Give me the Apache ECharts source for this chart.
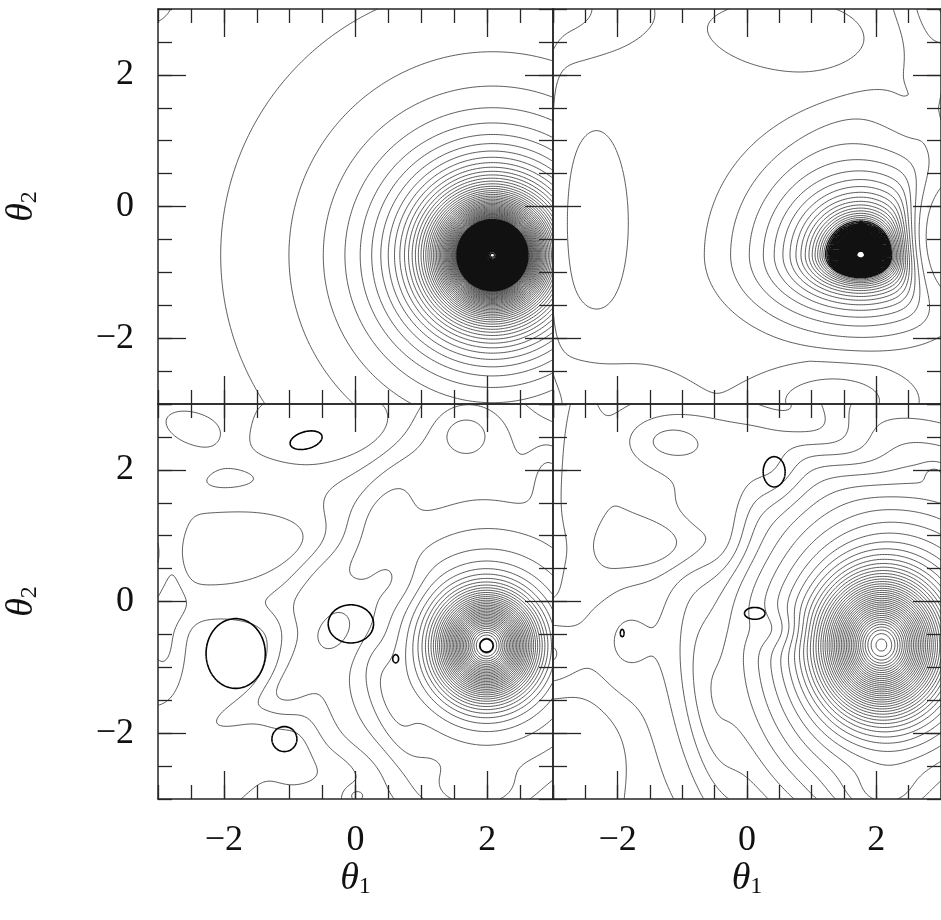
<!DOCTYPE html>
<html>
<head>
<meta charset="utf-8">
<script src="https://cdn.jsdelivr.net/npm/echarts@6.0.0/dist/echarts.min.js"></script>
<style>
html,body{margin:0;padding:0;background:#ffffff;}
#chart{width:941px;height:920px;}
</style>
</head>
<body>
<div id="chart"></div>
<script>
// ---------------- axes ----------------
const axisRange = [-3, 3];
const minorTickStep = 0.5;
const majorTickValues = [-2, 0, 2];
const xTitle = '{t|θ}{s|1}';
const yTitle = '{t|θ}{s|2}';

// peaks:   [x0, y0, amp, core, power, cut, kLeft, kRight, kDown, kUp]
// windows: [x0, y0, ax, ay]  (damps the peaks locally)
// gauss:   [x0, y0, amp, sx, sy, rotDeg]
// loops:   [x0, y0, rx, ry, rotDeg]  emphasised (black) closed contours
// coreFrom: contour level from which the dense core lines are drawn heavier

// ---------------- panel 1 (top-left) ----------------
const p1Peaks = [[2.08, -0.74, 1.0, 0.45, 2, 0, 1, 1, 1, 1]];
const p1Windows = [];
const p1Gauss = [[-3.2, 3.2, 0.07, 0.35, 0.35, 0]];
const p1Offset = 0;
const p1Gray = {base: 0.058, step: 0.0445, count: 110};
const p1CoreFrom = 2.0;
const p1Loops = [];

// ---------------- panel 2 (top-right) ----------------
const p2Peaks = [[1.76, -0.74, 12.0, 0.03, 1, 0.3716, 1.0, 1.1, 1.6, 1.05]];
const p2Windows = [[3.15, -0.5, 0.7, 1.2]];
const p2Gauss = [
  [-2.33, -0.25, 1.0, 0.42, 1.2, 0],
  [-3.3, -0.1, -2.0, 0.2, 4.0, 0],
  [-3.0, 3.0, -1.9, 0.9, 0.55, 0],
  [-3.0, -3.0, -1.4, 1.6, 0.57, 0],
  [0.75, 2.58, -1.15, 1.0, 0.42, -5],
  [1.35, -2.95, -2.3, 0.75, 0.35, 0],
  [3.3, 3.2, 3.0, 0.6, 0.6, 0],
  [2.0, 1.75, 0.55, 1.0, 0.38, 38],
  [2.78, 1.65, 0.9, 0.15, 0.42, 0]
];
const p2Offset = 0;
const p2Gray = {base: -2.5, step: 1, count: 170};
const p2CoreFrom = 17.5;
const p2Loops = [];

// ---------------- panel 3 (bottom-left) ----------------
const p3Peaks = [];
const p3Windows = [];
const p3Gauss = [
  [1.99, -0.67, 34, 0.45, 0.47, 0],
  [2.0, -0.7, 7.0, 1.7, 1.7, 0],
  [-0.6, 2.45, -1.8, 0.9, 0.32, 12],
  [1.7, 2.65, 1.8, 0.55, 0.45, 0],
  [1.66, 2.53, 1.0, 0.2, 0.17, 0],
  [-2.78, 0.74, 1.6, 0.16, 0.55, 0],
  [2.95, 1.93, 1.6, 0.2, 0.35, 0],
  [-1.6, 0.85, -1.6, 1.1, 0.3, 5],
  [0.35, 1.3, 1.4, 0.3, 0.8, -30],
  [-0.95, -1.0, 1.3, 0.25, 1.2, -15],
  [-1.82, -0.79, -1.6, 0.7, 0.8, 0],
  [-0.07, -0.34, -1.4, 0.5, 0.4, 0],
  [-1.08, -2.09, -1.4, 0.35, 0.35, 0],
  [-2.9, -0.7, 1.5, 0.25, 0.45, 0],
  [-2.0, -2.4, -1.2, 0.7, 0.4, 0],
  [1.8, -2.9, 1.8, 0.5, 0.25, 0],
  [0.0, -2.95, 1.2, 0.12, 0.1, 0],
  [-2.4, 2.6, 1.4, 0.6, 0.3, -20],
  [-2.0, -0.05, 1.2, 0.9, 0.25, 0],
  [-1.6, -1.6, 1.1, 0.7, 0.2, 30],
  [-1.8, 1.9, 1.2, 0.8, 0.25, 10],
  [0.55, -1.6, 1.0, 0.2, 0.7, 20],
  [-0.3, -2.6, -1.0, 0.5, 0.3, 0],
  [0.6, 0.3, -1.0, 0.3, 0.3, 0]
];
const p3Offset = 1.0;
const p3Gray = {base: 1, step: 1, count: 42};
const p3CoreFrom = null;
const p3Loops = [
  [-0.75, 2.45, 0.25, 0.13, 15],
  [-1.82, -0.79, 0.45, 0.53, 0],
  [-0.07, -0.34, 0.345, 0.29, 0],
  [0.61, -0.87, 0.045, 0.065, 0],
  [-1.08, -2.09, 0.19, 0.19, 30],
  [1.99, -0.67, 0.1, 0.1, 0]
];

// ---------------- panel 4 (bottom-right) ----------------
const p4Peaks = [];
const p4Windows = [];
const p4Gauss = [
  [2.07, -0.66, 33, 0.55, 0.6, 0],
  [2.3, -0.7, 14, 1.9, 2.1, 0],
  [-3.12, -0.8, 2.4, 0.38, 0.38, 0],
  [-1.25, 2.45, 2.0, 0.5, 0.3, 0],
  [-1.35, 0.85, -1.8, 0.75, 0.3, 0],
  [-1.95, -0.6, 1.5, 0.35, 0.55, 0],
  [0.42, 1.97, -1.2, 0.3, 0.35, 0],
  [0.5, -0.43, -1.2, 0.3, 0.2, 0],
  [-0.6, -1.6, 1.3, 0.25, 1.0, 10],
  [1.0, 2.7, -1.8, 1.0, 0.3, -30],
  [2.1, -3.0, 2.0, 0.5, 0.3, 0],
  [-2.55, 1.6, 1.2, 0.2, 1.2, 0],
  [-0.3, 1.2, -1.2, 0.25, 0.6, -10],
  [-2.6, -2.3, -1.2, 0.5, 0.5, 0],
  [2.9, 1.95, 1.0, 0.12, 0.1, 0]
];
const p4Offset = 0.5;
const p4Gray = {base: 1, step: 1, count: 47};
const p4CoreFrom = null;
const p4Loops = [
  [0.42, 1.97, 0.17, 0.23, 0],
  [0.12, -0.18, 0.16, 0.09, 0],
  [-1.93, -0.48, 0.03, 0.06, 0]
];

// ---------------- field + contouring ----------------
function makeField(offset, peaks, windows, gauss) {
  const gs = gauss.map(([cx, cy, amp, sx, sy, rot]) => {
    const a = rot * Math.PI / 180;
    return [cx, cy, amp, sx, sy, Math.cos(a), Math.sin(a)];
  });
  return function (x, y) {
    let w = 1;
    for (const [cx, cy, ax, ay] of windows) {
      const u = ((x - cx) / ax) ** 2 + ((y - cy) / ay) ** 2;
      w *= 1 - Math.exp(-u * u);
    }
    let f = offset;
    for (const [cx, cy, amp, core, pw, cut, kl, kr, kd, ku] of peaks) {
      let dx = x - cx, dy = y - cy;
      dx *= dx < 0 ? kl : kr;
      dy *= dy < 0 ? kd : ku;
      const r2 = dx * dx + dy * dy + core * core;
      let v = Math.pow(r2, -pw / 2) - cut;
      if (v < 0) v = 0;
      f += amp * v * w;
    }
    for (const [cx, cy, amp, sx, sy, c, s] of gs) {
      const dx = x - cx, dy = y - cy;
      const u = (dx * c + dy * s) / sx, v = (-dx * s + dy * c) / sy;
      f += amp * Math.exp(-0.5 * (u * u + v * v));
    }
    return f;
  };
}

function makeLoopField(loops) {
  const ls = loops.map(([cx, cy, rx, ry, rot]) => {
    const a = rot * Math.PI / 180;
    return [cx, cy, rx, ry, Math.cos(a), Math.sin(a)];
  });
  return function (x, y) {
    let f = 0;
    for (const [cx, cy, rx, ry, c, s] of ls) {
      const dx = x - cx, dy = y - cy;
      const u = (dx * c + dy * s) / rx, v = (-dx * s + dy * c) / ry;
      f = Math.max(f, Math.exp(-0.5 * (u * u + v * v)));
    }
    return f;
  };
}

function levelList(spec) {
  const out = [];
  for (let k = 0; k < spec.count; k++) out.push(spec.base + k * spec.step);
  return out;
}

const CASES = {
  1: [[3, 0]], 2: [[0, 1]], 3: [[3, 1]], 4: [[1, 2]], 6: [[0, 2]], 7: [[3, 2]],
  8: [[2, 3]], 9: [[0, 2]], 11: [[1, 2]], 12: [[3, 1]], 13: [[0, 1]], 14: [[3, 0]]
};

function contourSegments(field, levels, N) {
  const lo0 = axisRange[0], h = (axisRange[1] - axisRange[0]) / N, M = N + 1;
  const v = new Float64Array(M * M);
  for (let j = 0; j < M; j++)
    for (let i = 0; i < M; i++) v[j * M + i] = field(lo0 + i * h, lo0 + j * h);
  const segs = [];
  const tt = (p, q, L) => (q === p ? 0.5 : (L - p) / (q - p));
  for (let j = 0; j < N; j++) {
    for (let i = 0; i < N; i++) {
      const a = v[j * M + i], b = v[j * M + i + 1], c = v[(j + 1) * M + i + 1], d = v[(j + 1) * M + i];
      const lo = Math.min(a, b, c, d), hi = Math.max(a, b, c, d);
      let l = 0, r = levels.length;
      while (l < r) { const m = (l + r) >> 1; if (levels[m] <= lo) l = m + 1; else r = m; }
      const x0 = lo0 + i * h, y0 = lo0 + j * h;
      for (let k = l; k < levels.length && levels[k] <= hi; k++) {
        const L = levels[k];
        const idx = (a >= L ? 1 : 0) | (b >= L ? 2 : 0) | (c >= L ? 4 : 0) | (d >= L ? 8 : 0);
        if (idx === 0 || idx === 15) continue;
        const pt = (e) => {
          if (e === 0) return [x0 + h * tt(a, b, L), y0];
          if (e === 1) return [x0 + h, y0 + h * tt(b, c, L)];
          if (e === 2) return [x0 + h * tt(d, c, L), y0 + h];
          return [x0, y0 + h * tt(a, d, L)];
        };
        let pairs;
        if (idx === 5 || idx === 10) {
          const center = (a + b + c + d) / 4 >= L;
          if (idx === 5) pairs = center ? [[0, 1], [2, 3]] : [[3, 0], [1, 2]];
          else pairs = center ? [[3, 0], [1, 2]] : [[0, 1], [2, 3]];
        } else pairs = CASES[idx];
        for (const [e1, e2] of pairs) segs.push({coords: [pt(e1), pt(e2)]});
      }
    }
  }
  return segs;
}

const panels = [
  {offset: p1Offset, peaks: p1Peaks, windows: p1Windows, gauss: p1Gauss, gray: p1Gray, core: p1CoreFrom, loops: p1Loops},
  {offset: p2Offset, peaks: p2Peaks, windows: p2Windows, gauss: p2Gauss, gray: p2Gray, core: p2CoreFrom, loops: p2Loops},
  {offset: p3Offset, peaks: p3Peaks, windows: p3Windows, gauss: p3Gauss, gray: p3Gray, core: p3CoreFrom, loops: p3Loops},
  {offset: p4Offset, peaks: p4Peaks, windows: p4Windows, gauss: p4Gauss, gray: p4Gray, core: p4CoreFrom, loops: p4Loops}
];

// ---------------- layout ----------------
const gridBoxes = [
  {left: 158, top: 9, width: 395, height: 395},
  {left: 553, top: 9, width: 395, height: 395},
  {left: 158, top: 404, width: 395, height: 395},
  {left: 553, top: 404, width: 395, height: 395}
];
const lineColor = '#262626';
const labelFont = 'Liberation Serif';
const fmt = (v) => (v < 0 ? '\u2212' + Math.abs(v) : String(v));
const titleRich = {
  t: {fontFamily: labelFont, fontStyle: 'italic', fontSize: 38, color: '#111', lineHeight: 40},
  s: {fontFamily: labelFont, fontSize: 24, color: '#111', padding: [16, 0, 0, 0]}
};

const xAxes = [], yAxes = [];
gridBoxes.forEach((g, gi) => {
  const isBottom = gi >= 2, isLeft = gi % 2 === 0;
  const base = {type: 'value', min: axisRange[0], max: axisRange[1], gridIndex: gi,
    splitLine: {show: false}, axisPointer: {show: false}};
  const minorTick = {show: true, inside: true, length: 14, lineStyle: {color: lineColor, width: 1.3}};
  const majorTick = {show: true, inside: true, length: 28, customValues: majorTickValues,
    lineStyle: {color: lineColor, width: 1.3}};
  const lineOn = {show: true, onZero: false, lineStyle: {color: lineColor, width: 1.5}};
  const lineOff = {show: false, onZero: false};
  ['bottom', 'top'].forEach((pos) => {
    xAxes.push(Object.assign({}, base, {position: pos, interval: minorTickStep,
      axisLine: lineOn, axisTick: minorTick, axisLabel: {show: false}}));
    const showLab = pos === 'bottom' && isBottom;
    xAxes.push(Object.assign({}, base, {position: pos, interval: minorTickStep,
      axisLine: lineOff, axisTick: majorTick,
      axisLabel: {show: showLab, customValues: majorTickValues, formatter: fmt, margin: 24,
        fontFamily: labelFont, fontSize: 36, color: '#111'},
      name: showLab ? xTitle : '', nameLocation: 'middle', nameGap: 52,
      nameTextStyle: {rich: titleRich}}));
  });
  ['left', 'right'].forEach((pos) => {
    yAxes.push(Object.assign({}, base, {position: pos, interval: minorTickStep,
      axisLine: lineOn, axisTick: minorTick, axisLabel: {show: false}}));
    const showLab = pos === 'left' && isLeft;
    yAxes.push(Object.assign({}, base, {position: pos, interval: minorTickStep,
      axisLine: lineOff, axisTick: majorTick,
      axisLabel: {show: showLab, customValues: majorTickValues, formatter: fmt, margin: 24,
        fontFamily: labelFont, fontSize: 36, color: '#111'},
      name: showLab ? yTitle : '', nameLocation: 'middle', nameGap: 116, nameRotate: 90,
      nameTextStyle: {rich: titleRich}}));
  });
});

function linesSeries(gi, data, color, width) {
  return {type: 'lines', coordinateSystem: 'cartesian2d', xAxisIndex: gi * 4, yAxisIndex: gi * 4,
    large: true, largeThreshold: 100, silent: true, animation: false,
    lineStyle: {color: color, width: width, opacity: 1}, data: data};
}

const series = [];
panels.forEach((p, gi) => {
  const field = makeField(p.offset, p.peaks, p.windows, p.gauss);
  const all = levelList(p.gray);
  const outer = p.core == null ? all : all.filter((L) => L < p.core);
  series.push(linesSeries(gi, contourSegments(field, outer, 240), '#2e2e2e', 0.8));
  if (p.core != null) {
    const inner = all.filter((L) => L >= p.core);
    series.push(linesSeries(gi, contourSegments(field, inner, 240), '#111', 1.3));
  }
  if (p.loops.length) {
    series.push(linesSeries(gi, contourSegments(makeLoopField(p.loops), [Math.exp(-0.5)], 300), '#000', 1.6));
  }
});

const chart = echarts.init(document.getElementById('chart'), null, {renderer: 'canvas'});
chart.setOption({
  backgroundColor: '#ffffff',
  animation: false,
  grid: gridBoxes,
  xAxis: xAxes,
  yAxis: yAxes,
  series: series
});
</script>
</body>
</html>
